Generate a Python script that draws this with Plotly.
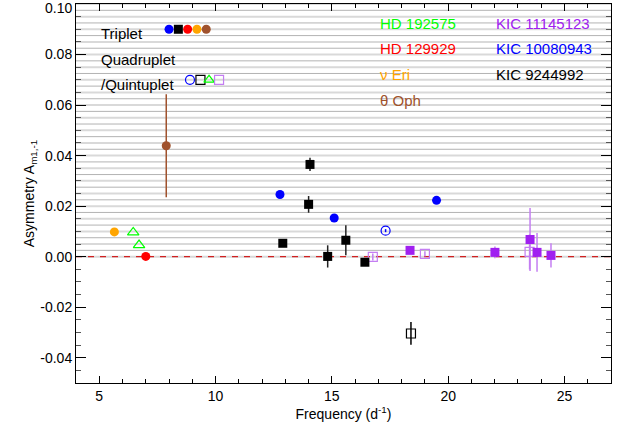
import numpy as np
import plotly.graph_objects as go

FONT = "Liberation Sans"

# ---------------- data ----------------
# Triplets (filled symbols)
kic10080943_tri_x = [12.77, 15.10, 19.50]
kic10080943_tri_y = [0.0246, 0.0153, 0.0223]

kic9244992_tri_x = [12.89, 14.06, 14.00, 14.82, 15.60, 16.42]
kic9244992_tri_y = [0.0053, 0.0365, 0.0207, 0.0001, 0.0065, -0.0022]
kic9244992_tri_e = [0.0004, 0.0026, 0.0033, 0.0044, 0.0059, 0.0004]

hd129929_x = [7.00]
hd129929_y = [0.0001]

nu_eri_x = [5.65]
nu_eri_y = [0.0098]

theta_oph_x = [7.88]
theta_oph_y = [0.0439]
theta_oph_e = [0.0204]

kic11145123_tri_x = [18.36, 22.01, 23.52, 23.82, 24.42]
kic11145123_tri_y = [0.0025, 0.0017, 0.0068, 0.0017, 0.0005]
kic11145123_tri_e = [0.0004, 0.0023, 0.0125, 0.0077, 0.0048]

# Quadruplets / quintuplets (open symbols)
kic10080943_quad_x = [17.31]
kic10080943_quad_y = [0.0103]
kic10080943_quad_e = [0.0006]

kic9244992_quad_x = [18.40]
kic9244992_quad_y = [-0.0304]
kic9244992_quad_e = [0.0045]

hd192575_x = [6.46, 6.71]
hd192575_y = [0.0096, 0.0046]

kic11145123_quad_x = [16.76, 19.00, 23.50]
kic11145123_quad_y = [-0.0001, 0.0011, 0.0019]
kic11145123_quad_e = [0.0014, 0.0010, 0.0070]

# legend keys (drawn in data space as in the original)
key_tri_x = [8.0, 8.4, 8.8, 9.2, 9.6]
key_tri_y = [0.09] * 5
key_quad_x = [8.9, 9.35, 9.72, 10.15]
key_quad_y = [0.07] * 4

y_tick_vals = [-0.04, -0.02, 0.0, 0.02, 0.04, 0.06, 0.08, 0.10]
y_tick_text = ["-0.04", "-0.02", "0.00", "0.02", "0.04", "0.06", "0.08", "0.10"]
x_tick_vals = [5, 10, 15, 20, 25]

BLUE = "#0000ff"
BLACK = "#000000"
RED = "#ff0000"
ORANGE = "#ffa500"
BROWN = "#a0522d"
GREEN = "#00ff00"
PURPLE = "#a020f0"
PURPLE_LIGHT = "#c47ef2"

fig = go.Figure()


def add(x, y, symbol, color, size=9, err=None, errcolor=None, open_=False):
    marker = dict(symbol=symbol, color=color, size=size)
    if open_:
        marker["line"] = dict(color=color, width=1.2)
    else:
        marker["line"] = dict(width=0)
    kw = {}
    if err is not None:
        kw["error_y"] = dict(type="data", array=err, visible=True, width=0,
                             thickness=1.5, color=errcolor or color)
    fig.add_trace(go.Scatter(x=x, y=y, mode="markers", marker=marker,
                             showlegend=False, hoverinfo="skip", **kw))


# error bars / data
add(theta_oph_x, theta_oph_y, "circle", BROWN, 9, theta_oph_e, BROWN)
add(nu_eri_x, nu_eri_y, "circle", ORANGE, 9)
add(hd192575_x, hd192575_y, "triangle-up-open", GREEN, 10, open_=True)
add(hd129929_x, hd129929_y, "circle", RED, 9)
add(kic10080943_tri_x, kic10080943_tri_y, "circle", BLUE, 9)
add(kic10080943_quad_x, kic10080943_quad_y, "circle-open", BLUE, 9,
    kic10080943_quad_e, BLUE, open_=True)
add(kic11145123_quad_x, kic11145123_quad_y, "square-open", PURPLE_LIGHT, 9,
    kic11145123_quad_e, PURPLE_LIGHT, open_=True)
add(kic11145123_tri_x, kic11145123_tri_y, "square", PURPLE, 9,
    kic11145123_tri_e, PURPLE_LIGHT)
add(kic9244992_tri_x, kic9244992_tri_y, "square", BLACK, 9,
    kic9244992_tri_e, "#222222")
add(kic9244992_quad_x, kic9244992_quad_y, "square-open", BLACK, 9,
    kic9244992_quad_e, BLACK, open_=True)

# legend keys
fig.add_trace(go.Scatter(x=key_tri_x, y=key_tri_y, mode="markers",
                         marker=dict(symbol=["circle", "square", "circle", "circle", "circle"],
                                     color=[BLUE, BLACK, RED, ORANGE, BROWN], size=9,
                                     line=dict(width=0)),
                         showlegend=False, hoverinfo="skip"))
fig.add_trace(go.Scatter(x=key_quad_x, y=key_quad_y, mode="markers",
                         marker=dict(symbol=["circle-open", "square-open", "triangle-up-open", "square-open"],
                                     color=[BLUE, BLACK, GREEN, PURPLE_LIGHT], size=9,
                                     line=dict(width=1.2, color=[BLUE, BLACK, GREEN, PURPLE_LIGHT])),
                         showlegend=False, hoverinfo="skip"))

# horizontal background lines from 0 to 0.10
shapes = []
levels = np.round(np.arange(0.0, 0.1001, 0.0025), 4)
for i, lv in enumerate(levels):
    light = (i % 2 == 0)
    shapes.append(dict(type="line", xref="paper", x0=0, x1=1, yref="y", y0=lv, y1=lv,
                       line=dict(color="#d9d9d9" if light else "#b3b3b3",
                                 width=2 if light else 1),
                       layer="below"))
shapes.append(dict(type="line", xref="paper", x0=0, x1=1, yref="y", y0=0, y1=0,
                   line=dict(color="#d02020", width=1.3, dash="6px,6px"), layer="below"))
fig.update_layout(shapes=shapes)

# annotations
def txt(x, y, s, color):
    fig.add_annotation(x=x, y=y, xref="x", yref="y", text=s, showarrow=False,
                       xanchor="left", yanchor="middle",
                       font=dict(family=FONT, size=15, color=color))

txt(4.98, 0.0885, "Triplet", BLACK)
txt(4.98, 0.0780, "Quadruplet", BLACK)
txt(4.98, 0.0680, "/Quintuplet", BLACK)
txt(16.98, 0.0924, "HD 192575", GREEN)
txt(16.98, 0.0822, "HD 129929", RED)
txt(16.98, 0.0720, "ν Eri", ORANGE)
txt(16.98, 0.0620, "θ Oph", BROWN)
txt(21.95, 0.0924, "KIC 11145123", PURPLE)
txt(21.95, 0.0822, "KIC 10080943", BLUE)
txt(21.95, 0.0720, "KIC 9244992", BLACK)

# top y tick label, nudged down so it stays inside the page
top_label_value = y_tick_vals[-1]
top_label_text = y_tick_text[-1]
y_tick_text_axis = y_tick_text[:-1] + [""]
fig.add_annotation(x=0, xref="paper", y=top_label_value, yref="y", text=top_label_text,
                   showarrow=False, xanchor="right", yanchor="middle", xshift=-2, yshift=-4,
                   font=dict(family=FONT, size=14, color="black"))

axis_common = dict(showline=True, linecolor="black", linewidth=1, mirror="allticks",
                   ticks="inside", tickcolor="black", showgrid=False, zeroline=False,
                   tickfont=dict(family=FONT, size=14, color="black"))

fig.update_xaxes(range=[4, 27], tickvals=x_tick_vals, ticklen=7,
                 minor=dict(dtick=1, ticks="inside", ticklen=4, tickcolor="black", showgrid=False),
                 title=dict(text="Frequency (d<sup>-1</sup>)", standoff=4,
                            font=dict(family=FONT, size=14, color="black")),
                 **axis_common)
fig.update_yaxes(range=[-0.05, 0.10], tickvals=y_tick_vals, ticktext=y_tick_text_axis, ticklen=10,
                 minor=dict(dtick=0.005, tick0=0, ticks="inside", ticklen=5, tickcolor="#555555",
                            showgrid=False),
                 title=dict(text="Asymmetry A<sub>m1,-1</sub>", standoff=2,
                            font=dict(family=FONT, size=14, color="black")),
                 **axis_common)

fig.update_layout(width=630, height=429, margin=dict(l=76, r=19, t=4, b=46, autoexpand=False),
                  plot_bgcolor="white", paper_bgcolor="white",
                  font=dict(family=FONT, size=14, color="black"))

fig.write_html("out.html")
